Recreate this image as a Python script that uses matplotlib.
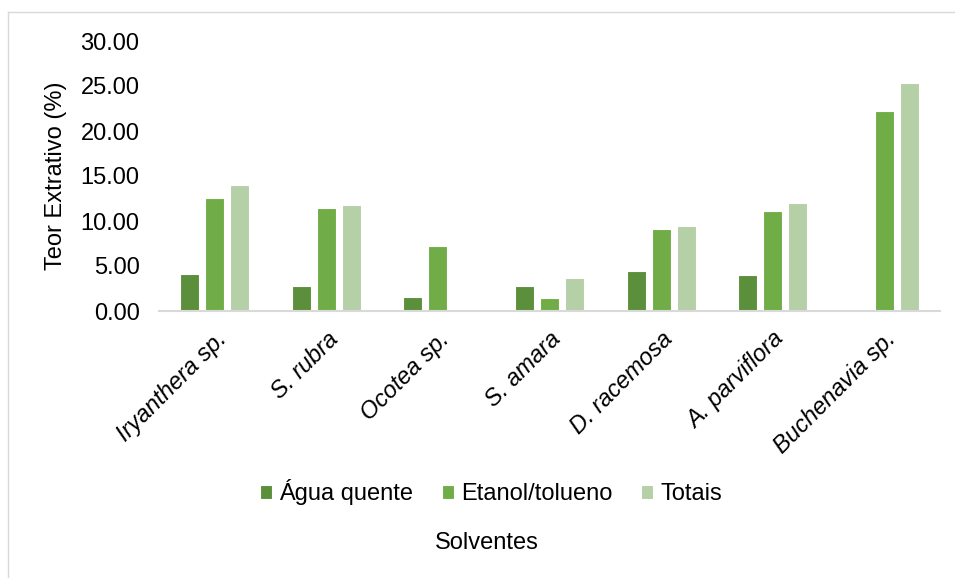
import numpy as np
import matplotlib.pyplot as plt
from matplotlib.lines import Line2D

plt.rcParams['font.family'] = ['Liberation Sans', 'DejaVu Sans']

species = ["Iryanthera sp.", "S. rubra", "Ocotea sp.", "S. amara",
           "D. racemosa", "A. parviflora", "Buchenavia sp."]
agua_quente = [4.1, 2.75, 1.55, 2.75, 4.4, 3.95, 0.0]
etanol_tolueno = [12.6, 11.4, 7.25, 1.5, 9.1, 11.1, 22.2]
totais = [13.95, 11.75, 0.0, 3.65, 9.45, 12.05, 25.35]
series_names = ["Água quente", "Etanol/tolueno", "Totais"]
colors = ["#5B8F3B", "#70AD47", "#B5CFA6"]
yticks = [0, 5, 10, 15, 20, 25, 30]

FS = 17


def main():
    fig = plt.figure(figsize=(9.55, 5.78), dpi=100)
    ax = fig.add_axes([159 / 955, 1 - 311 / 578, 781 / 955, 270 / 578])

    # chart area border (top and left edges visible)
    fig.add_artist(Line2D([8 / 955, 1.0], [1 - 12 / 578, 1 - 12 / 578],
                          transform=fig.transFigure, color="#D9D9D9", lw=1))
    fig.add_artist(Line2D([8 / 955, 8 / 955], [0.0, 1 - 12 / 578],
                          transform=fig.transFigure, color="#D9D9D9", lw=1))

    x = np.arange(len(species))
    width = 0.17
    step = 0.224
    for i, (vals, name, c) in enumerate(zip([agua_quente, etanol_tolueno, totais],
                                            series_names, colors)):
        ax.bar(x + (i - 1) * step, vals, width, color=c, label=name,
               edgecolor="white", linewidth=0.8, zorder=2)

    ax.set_xlim(-0.5, len(species) - 0.5)
    ax.set_ylim(0, 30)
    ax.set_yticks(yticks)
    ax.set_yticklabels([f"{v:.2f}" for v in yticks], fontsize=FS)
    ax.set_xticks(x)
    ax.set_xticklabels(species, rotation=45, ha="right", va="top",
                       rotation_mode="anchor", fontsize=FS, style="italic")
    ax.tick_params(axis="both", length=0)
    ax.tick_params(axis="y", pad=14)
    ax.tick_params(axis="x", pad=12)

    for s in ["top", "right", "left"]:
        ax.spines[s].set_visible(False)
    ax.spines["bottom"].set_color("#D9D9D9")
    ax.spines["bottom"].set_linewidth(1.5)

    ax.set_ylabel("Teor Extrativo (%)", fontsize=FS, labelpad=10)

    fig.legend(loc="center", bbox_to_anchor=(491 / 955, 1 - 492 / 578),
               ncol=3, frameon=False, fontsize=FS, handlelength=0.52,
               handleheight=0.52, handletextpad=0.3, columnspacing=1.2)
    fig.text(487 / 955, 1 - 543 / 578, "Solventes", ha="center", va="center",
             fontsize=FS)

    fig.savefig("out.png", dpi=100)


if __name__ == "__main__":
    main()
